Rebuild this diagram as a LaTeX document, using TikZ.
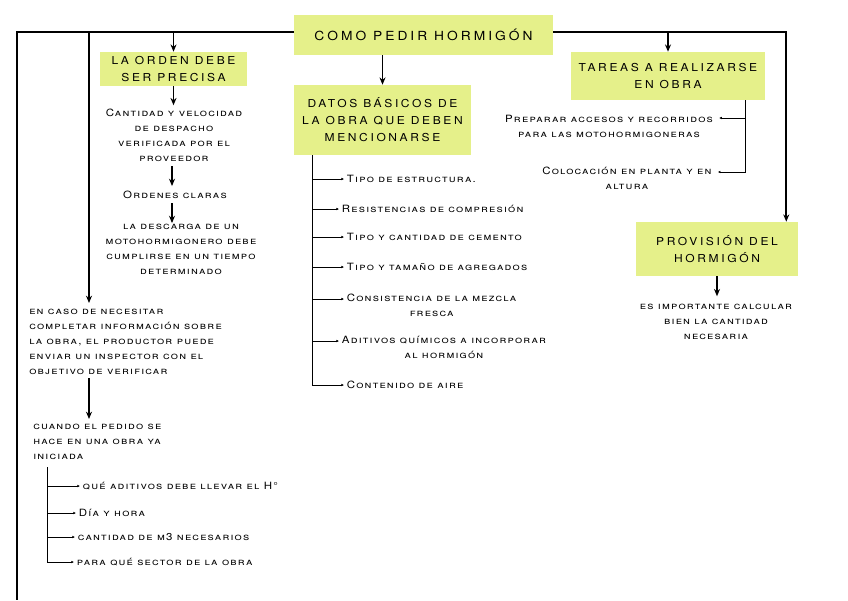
\documentclass[tikz,border=0pt]{standalone}
\usepackage{fontspec}
\setmainfont{TeX Gyre Heros}[FakeStretch=1.15,LetterSpace=12]
\newfontfamily\boxfont{TeX Gyre Heros}[FakeStretch=1.1,LetterSpace=24]
\usepackage{tikz}
\usetikzlibrary{arrows.meta,positioning,calc}
\definecolor{lime}{RGB}{229,240,138}

\tikzset{
  box/.style={fill=lime, align=center, inner sep=0pt, font=\boxfont\fontsize{8.2}{12.75}\selectfont},
  note/.style={align=center, inner sep=0pt, font=\scshape\fontsize{7.5}{11.25}\selectfont},
  leaf/.style={note, anchor=west, inner xsep=2pt},
  frame/.style={line width=1.2pt},
  arr/.style={line width=1.2pt, -{Stealth[length=5.5pt,width=4.5pt]}},
  twig/.style={line width=0.7pt, -{Latex[length=2pt,width=2pt]}},
}

\begin{document}
\begin{tikzpicture}[x=0.75pt,y=-0.75pt]
\useasboundingbox[fill=white] (0,0) rectangle (848,600);

% Title
\node[box, minimum width=194.25pt, minimum height=30pt, font=\boxfont\fontsize{9.4}{14}\selectfont] (title) at (423.5,35) {COMO PEDIR HORMIGÓN};

% Boxes
\node[box, minimum width=110.25pt, minimum height=25.5pt] (orden) at (173.5,69) {LA ORDEN DEBE\\SER PRECISA};
\node[box, minimum width=132.75pt, minimum height=52.5pt] (datos) at (382.5,120) {DATOS BÁSICOS DE\\LA OBRA QUE DEBEN\\MENCIONARSE};
\node[box, minimum width=145.5pt, minimum height=36pt] (tareas) at (668,76) {TAREAS A REALIZARSE\\EN OBRA};
\node[box, minimum width=121.5pt, minimum height=40.5pt] (prov) at (717,249) {PROVISIÓN DEL\\HORMIGÓN};

% Frame
\coordinate (top) at (0,32);
\coordinate (floor) at (17,600);
\coordinate (k) at (89,32);
\draw[frame] ($(title.west)+(0,-3)$) -| (floor);
\draw[arr] ($(title.east)+(0,-3)$) -| ($(prov.north east)+(-12,0)$);
\draw[arr] (orden.north |- top) -- (orden.north);
\draw[arr] (tareas.north |- top) -- (tareas.north);
\draw[arr] (title.south -| datos.north) -- (datos.north);

% La orden debe ser precisa
\node[note] (cantidad) at (174,135.5) {Cantidad y velocidad\\de despacho\\verificada por el\\proveedor};
\node[note] (ordenes) at (175,195) {Ordenes claras};
\node[note] (descarga) at (181,249) {la descarga de un\\motohormigonero debe\\cumplirse en un tiempo\\determinado};
\draw[arr] (orden.south) -- ++(0,19);
\draw[arr] ($(cantidad.south)+(-2,4)$) -- ++(0,20);
\draw[arr] ($(ordenes.south)+(-3,4)$) -- ++(0,20);

% Inspector
\node[note, align=left, anchor=north west] (enc) at (29,309) {en caso de necesitar\\completar información sobre\\la obra, el productor puede\\enviar un inspector con el\\objetivo de verificar};
\draw[arr] (k) -- ($(k |- enc.north)+(0,-6)$);
\node[note, align=left, anchor=north west] (cuando) at (33,424) {cuando el pedido se\\hace en una obra ya\\iniciada};
\draw[arr] ($(enc.south west)+(60,3)$) -- ($(cuando.north west)+(56,-5)$);

\coordinate (c0) at (47,467);
\node[leaf] (q1) at (80,486) {qué aditivos debe llevar el H°};
\node[leaf] (q2) at (76,513) {Día y hora};
\node[leaf] (q3) at (75,537) {cantidad de m3 necesarios};
\node[leaf] (q4) at (74,562) {para qué sector de la obra};
\foreach \q in {q1,q2,q3,q4}
  \draw[twig] (c0) |- (\q.west);

% Datos basicos
\coordinate (d0) at ($(datos.south west)+(19,0)$);
\node[leaf] (e1) at (344,179) {Tipo de estructura.};
\node[leaf] (e2) at (339,209) {Resistencias de compresión};
\node[leaf] (e3) at (344,237) {Tipo y cantidad de cemento};
\node[leaf] (e4) at (344,267) {Tipo y tamaño de agregados};
\node[leaf, anchor=north west] (e5) at (344,294) {Consistencia de la mezcla\\fresca};
\node[leaf, anchor=north west] (e6) at (339,336) {Aditivos químicos a incorporar\\al hormigón};
\node[leaf] (e7) at (344,385) {Contenido de aire};
\foreach \e in {e1,e2,e3,e4,e7}
  \draw[twig] (d0) |- (\e.west);
\draw[twig] (d0) |- ($(e5.north west)+(0,5)$);
\draw[twig] (d0) |- ($(e6.north west)+(0,5)$);

% Tareas
\coordinate (t0) at ($(tareas.south east)+(-20,0)$);
\node[note, anchor=north] (prep) at (609,115) {Preparar accesos y recorridos\\para las motohormigoneras};
\node[note, anchor=north] (coloc) at (627,167) {Colocación en planta y en\\altura};
\draw[twig] (t0) |- ($(prep.north east)+(6,3)$);
\draw[twig] (t0) |- ($(coloc.north east)+(6,5)$);

% Provision
\node[note] (imp) at (716,322) {es importante calcular\\bien la cantidad\\necesaria};
\draw[arr] (prov.south) -- ++(0,20);

\end{tikzpicture}
\end{document}
